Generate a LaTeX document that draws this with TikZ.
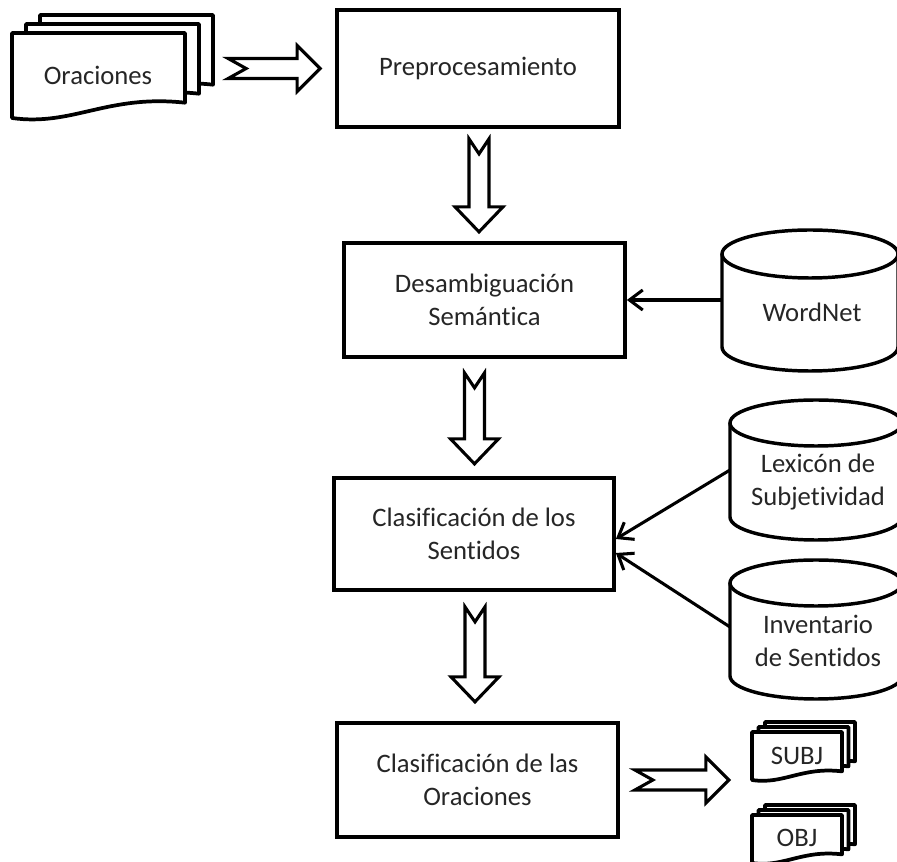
\documentclass[tikz,border=0pt]{standalone}
\usepackage{fontspec}
\setmainfont{Carlito}[Ligatures=NoCommon]
\usetikzlibrary{arrows.meta,calc}
\definecolor{txt}{RGB}{38,38,38}
\newcommand\docpage[3]{%
  \draw[docline,shift={#3}] (0,0) -- (#1,0) -- (#1,0.82*#2) .. controls (0.55*#1,0.72*#2) and (0.35*#1,1.1*#2) .. (0,#2) -- cycle;}
\newcommand\multidoc[5]{%
  \begin{scope}[shift={#1}]
   \docpage{#2}{#3}{(2*#4,2*#5)}
   \docpage{#2}{#3}{(#4,#5)}
   \docpage{#2}{#3}{(0,0)}
  \end{scope}}
\newcommand\downblock[2]{%
  \draw[blockarr,shift={#1}] (-10,0) -- (0,15) -- (10,0) -- (10,#2-25) -- (24,#2-25) -- (0,#2) -- (-24,#2-25) -- (-10,#2-25) -- cycle;}
\newcommand\rightblock[2]{%
  \draw[blockarr,shift={#1}] (0,-10) -- (18,0) -- (0,10) -- (#2-23,10) -- (#2-23,23) -- (#2,0) -- (#2-23,-23) -- (#2-23,-10) -- cycle;}
\newcommand\cyl[5]{%
  \draw[cylline] (#1-#4,#2) -- (#1-#4,#3) arc[start angle=180,end angle=0,x radius=#4,y radius=#5] -- (#1+#4,#2);
  \draw[cylline] (#1,#2) ellipse[x radius=#4,y radius=#5];}
\tikzset{
  box/.style={draw=black,line width=2.8pt,fill=white,inner sep=0pt,align=center,text=txt,font=\fontsize{20}{24.5}\selectfont},
  lbl/.style={inner sep=0pt,align=center,text=txt,font=\fontsize{20}{24.5}\selectfont},
  docline/.style={draw=black,fill=white,line width=2.8pt,line join=round},
  blockarr/.style={draw=black,fill=white,line width=2.3pt,line join=miter},
  cylline/.style={draw=black,line width=2.6pt},
  conn/.style={draw=black,line width=2.3pt,-{Straight Barb[length=10pt,width=15pt]}}
}
\begin{document}
\begin{tikzpicture}[x=0.75pt,y=-0.75pt]
\useasboundingbox (0,0) rectangle (897,862);
% process boxes
\node[box,minimum width=211.5pt,minimum height=87.75pt] (pre) at (478,68.5) {Preprocesamiento};
\node[box,minimum width=210.75pt,minimum height=85.5pt] (des) at (484.5,300) {Desambiguación\\Semántica};
\node[box,minimum width=210pt,minimum height=84pt] (sent) at (474,534) {Clasificación de los\\Sentidos};
\node[box,minimum width=210.75pt,minimum height=85.5pt] (ora) at (477.5,780) {Clasificación de las\\Oraciones};
% documents
\multidoc{(12,33)}{173}{85}{14}{-9}
\node[lbl] (orac) at (98,75) {Oraciones};
\multidoc{(752,732)}{90}{48}{6.5}{-5}
\node[lbl] (subj) at (797,756) {SUBJ};
\multidoc{(752,815)}{90}{48}{6.5}{-5}
\node[lbl] (obj) at (797,838) {OBJ};
% cylinders
\cyl{810}{254}{347}{88}{24}
\node[lbl] (wn) at (812,312) {WordNet};
\cyl{816}{423}{517}{86}{23}
\node[lbl] (lex) at (818,482) {Lexicón de\\Subjetividad};
\cyl{816}{583}{676}{86}{23}
\node[lbl] (inv) at (818,641) {Inventario\\de Sentidos};
\coordinate (wnL) at (722,300);
\coordinate (lexL) at (730,470);
\coordinate (invL) at (730,627);
% block arrows
\rightblock{($(pre.west)+(-107,0)$)}{92}
\downblock{($(pre.south)+(1,10)$)}{93}
\downblock{($(des.south)+(-10,14)$)}{91}
\downblock{($(sent.south)+(1,15)$)}{95}
\rightblock{($(ora.east)+(15,0)$)}{94}
% connectors
\draw[conn] (wnL) -- (des.east);
\draw[conn] (lexL) -- ($(sent.east)+(0,5)$);
\draw[conn] (invL) -- ($(sent.east)+(0,19)$);
\end{tikzpicture}
\end{document}
